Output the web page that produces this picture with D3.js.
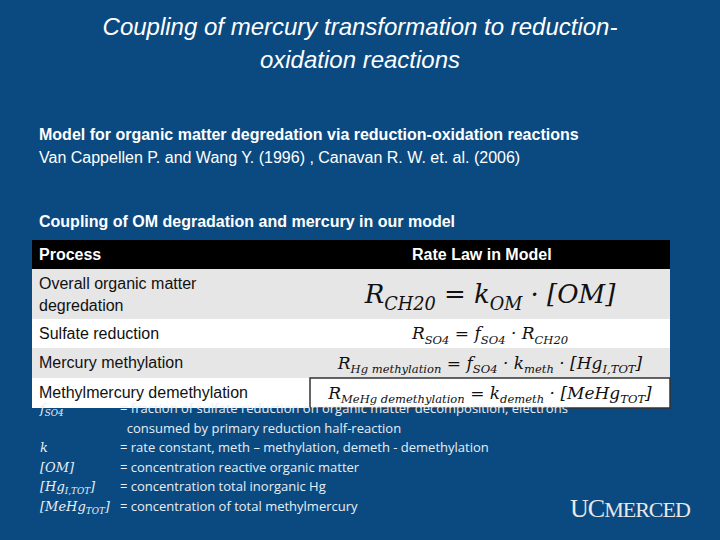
<!DOCTYPE html>
<html><head><meta charset="utf-8">
<script src="https://cdn.jsdelivr.net/npm/d3@7"></script>
<style>body{margin:0;background:#0b4a80}svg{display:block}</style>
</head><body><svg id="s" width="720" height="540"></svg>
<script>
const titleLines = ['Coupling of mercury transformation to reduction-', 'oxidation reactions'];
const introLines = [
  {t: 'Model for organic matter degredation via reduction-oxidation reactions', b: true},
  {t: 'Van Cappellen P. and Wang Y. (1996) , Canavan R. W. et. al. (2006)', b: false}
];
const tableTitle = 'Coupling of OM degradation and mercury in our model';
const headers = ['Process', 'Rate Law in Model'];
const processes = [['Overall organic matter', 'degredation'], ['Sulfate reduction'], ['Mercury methylation'], ['Methylmercury demethylation']];
const rowHeights = [50, 29, 30, 30];
const rowFills = ['#e6e6e6', '#ffffff', '#e6e6e6', '#ffffff'];
// formula parts: [text, subscript?]
const formulas = [
  [['R', 0], ['CH20', 1], [' = k', 0], ['OM', 1], [' · [OM]', 0]],
  [['R', 0], ['SO4', 1], [' = f', 0], ['SO4', 1], [' · R', 0], ['CH20', 1]],
  [['R', 0], ['Hg methylation', 1], [' = f', 0], ['SO4', 1], [' · k', 0], ['meth', 1], [' · [Hg', 0], ['I,TOT', 1], [']', 0]],
  [['R', 0], ['MeHg demethylation', 1], [' = k', 0], ['demeth', 1], [' · [MeHg', 0], ['TOT', 1], [']', 0]]
];
const formulaSizes = [26, 17, 17, 17];
const legendTerms = [
  [['f', 0], ['SO4', 1]], null, [['k', 0]], [['[OM]', 0]], [['[Hg', 0], ['I,TOT', 1], [']', 0]], [['[MeHg', 0], ['TOT', 1], [']', 0]]
];
const legendDefs = [
  '= fraction of sulfate reduction on organic matter decomposition, electrons',
  '  consumed by primary reduction half-reaction',
  '= rate constant, meth – methylation, demeth - demethylation',
  '= concentration reactive organic matter',
  '= concentration total inorganic Hg',
  '= concentration of total methylmercury'
];

const svg = d3.select('#s');
svg.append('rect').attr('width', 720).attr('height', 540).attr('fill', '#0b4a80');

svg.selectAll('text.title').data(titleLines).join('text').attr('class', 'title')
  .attr('x', 360).attr('y', (d, i) => 35 + i * 33).attr('text-anchor', 'middle')
  .attr('fill', '#fff').attr('font-family', 'Liberation Sans, Arial').attr('font-style', 'italic')
  .attr('font-size', 24).text(d => d);

svg.selectAll('text.intro').data(introLines).join('text').attr('class', 'intro')
  .attr('x', 39).attr('y', (d, i) => 140 + i * 23).attr('fill', '#fff')
  .attr('font-family', 'Liberation Sans, Arial').attr('font-size', 16)
  .attr('font-weight', d => d.b ? 'bold' : 'normal').text(d => d.t);

svg.append('text').attr('x', 39).attr('y', 227).attr('fill', '#fff')
  .attr('font-family', 'Liberation Sans, Arial').attr('font-size', 16).attr('font-weight', 'bold').text(tableTitle);

const x0 = 32, x1 = 670, splitX = 310;
svg.append('rect').attr('x', x0).attr('y', 240).attr('width', x1 - x0).attr('height', 29).attr('fill', '#000');
svg.selectAll('text.hd').data(headers).join('text').attr('class', 'hd')
  .attr('x', (d, i) => i ? 412 : 39).attr('y', 260).attr('fill', '#fff')
  .attr('font-family', 'Liberation Sans, Arial').attr('font-size', 16).attr('font-weight', 'bold').text(d => d);

const tops = d3.cumsum([269, ...rowHeights]);
const row = svg.selectAll('g.row').data(processes).join('g').attr('class', 'row')
  .attr('transform', (d, i) => `translate(0,${tops[i]})`);
row.append('rect').attr('x', x0).attr('width', x1 - x0).attr('height', (d, i) => rowHeights[i]).attr('fill', (d, i) => rowFills[i]);
row.filter((d, i) => i == 3).append('rect').attr('x', splitX).attr('width', x1 - splitX).attr('height', 30)
  .attr('fill', '#fff').attr('stroke', '#333').attr('stroke-width', 1.5);
row.each(function(d, i) {
  const g = d3.select(this);
  g.selectAll('text.p').data(d).join('text').attr('class', 'p').attr('x', 39)
    .attr('y', (t, j) => 20 + j * 22).attr('font-family', 'Liberation Sans, Arial').attr('font-size', 16)
    .attr('fill', '#111').text(t => t);
  const fs = formulaSizes[i];
  const t = g.append('text').attr('x', 490).attr('y', rowHeights[i] / 2 + fs * 0.35)
    .attr('text-anchor', 'middle').attr('font-family', i == 0 ? 'Liberation Sans Narrow, DejaVu Serif' : 'DejaVu Serif')
    .attr('font-style', 'italic').attr('font-size', fs).attr('fill', '#111');
  addParts(t, formulas[i], fs);
});

function addParts(t, parts, fs) {
  let prev = 0;
  parts.forEach(([s, sub]) => {
    const dy = (sub ? fs * 0.25 : 0) - prev;
    prev = sub ? fs * 0.25 : 0;
    t.append('tspan').attr('dy', dy).attr('font-size', sub ? fs * 0.68 : fs).text(s);
  });
}

legendDefs.forEach((d, i) => {
  const y = 413 + i * 19.5;
  if (legendTerms[i]) {
    const t = svg.append('text').attr('x', 40).attr('y', y).attr('fill', '#e8eef5')
      .attr('font-family', 'DejaVu Serif').attr('font-style', 'italic').attr('font-size', 13);
    addParts(t, legendTerms[i], 13);
  }
  svg.append('text').attr('x', i == 1 ? 120 : 120).attr('y', y).attr('fill', '#e8eef5')
    .attr('font-family', 'Open Sans, Liberation Sans').attr('font-size', 13).attr('xml:space', 'preserve').text(d);
});

svg.append('text').attr('x', 570).attr('y', 517).attr('fill', '#e8e8e8')
  .attr('font-family', 'Liberation Serif, serif').attr('font-size', 26).attr('letter-spacing', -1)
  .call(t => { t.append('tspan').text('UC'); t.append('tspan').attr('font-size', 22).text('MERCED'); });
</script></body></html>
